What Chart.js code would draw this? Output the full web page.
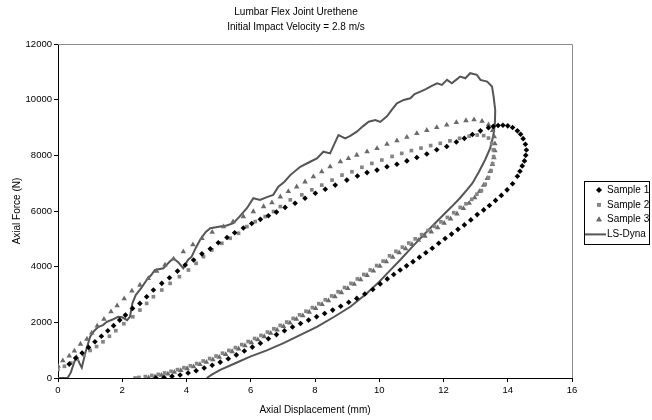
<!DOCTYPE html>
<html>
<head>
<meta charset="utf-8">
<script src="https://cdn.jsdelivr.net/npm/chart.js@4.4.0/dist/chart.umd.min.js"></script>
<style>
    body { margin: 0; background: #fff; }
    #wrap { width: 652px; height: 420px; }
</style>
</head>
<body>
<div id="wrap"><canvas id="hysteresis" width="652" height="420"></canvas></div>
<script>
// values, [displacement mm, force N]
var sample1 = [
    [0.35, 500], [0.55, 720], [0.75, 900], [0.95, 1100], [1.15, 1300], [1.35, 1500], [1.55, 1700],
    [1.73, 1880], [1.92, 2080], [2.1, 2260], [2.32, 2500], [2.55, 2680], [2.76, 2920], [2.97, 3160],
    [3.23, 3400], [3.47, 3600], [3.72, 3840], [3.96, 4060], [4.22, 4240], [4.48, 4460], [4.74, 4640],
    [4.99, 4860], [5.26, 5050], [5.5, 5220], [5.77, 5390], [6.03, 5550], [6.3, 5700], [6.55, 5830],
    [6.8, 5960], [7.07, 6130], [7.38, 6280], [7.69, 6460], [8.01, 6640], [8.32, 6780], [8.63, 6930],
    [8.99, 7110], [9.32, 7260], [9.62, 7380], [9.93, 7470], [10.24, 7590], [10.55, 7680], [10.86, 7800],
    [11.17, 7920], [11.48, 8050], [11.79, 8200], [12.1, 8320], [12.4, 8480], [12.65, 8610], [12.9, 8750],
    [13.15, 8880], [13.4, 8990], [13.55, 9040], [13.7, 9070], [13.85, 9080], [14.0, 9060], [14.15, 9000],
    [14.3, 8880], [14.4, 8760], [14.48, 8600], [14.55, 8400], [14.58, 8190], [14.56, 8000], [14.52, 7800],
    [14.45, 7620], [14.38, 7430], [14.3, 7250], [14.15, 6980], [13.98, 6760], [13.8, 6560], [13.62, 6380],
    [13.43, 6200], [13.25, 6040], [13.05, 5870], [12.85, 5680], [12.65, 5500], [12.45, 5340], [12.25, 5170],
    [12.05, 5010], [11.85, 4840], [11.65, 4660], [11.45, 4500], [11.25, 4340], [11.05, 4180], [10.85, 4030],
    [10.65, 3880], [10.45, 3720], [10.25, 3560], [10.03, 3380], [9.8, 3180], [9.55, 3020], [9.3, 2860],
    [9.05, 2720], [8.8, 2580], [8.55, 2440], [8.3, 2320], [8.05, 2200], [7.8, 2080], [7.55, 1960],
    [7.3, 1830], [7.05, 1700], [6.8, 1560], [6.55, 1410], [6.3, 1250], [6.05, 1110], [5.8, 970],
    [5.55, 830], [5.3, 690], [5.05, 570], [4.8, 460], [4.55, 360], [4.3, 260], [4.05, 180], [3.8, 110],
    [3.55, 60], [3.3, 20], [3.05, 0]
];

var sample2 = [
    [0, 310], [0.2, 420], [0.4, 540], [0.6, 680], [0.8, 830], [1.0, 990], [1.2, 1130], [1.4, 1300],
    [1.6, 1500], [1.8, 1700], [2.05, 1950], [2.33, 2200], [2.55, 2440], [2.76, 2680], [2.97, 2920],
    [3.23, 3160], [3.49, 3400], [3.78, 3640], [4.06, 3880], [4.3, 4120], [4.53, 4360], [4.79, 4600],
    [5.1, 4840], [5.36, 5020], [5.62, 5200], [5.88, 5440], [6.14, 5620], [6.45, 5800], [6.71, 5980],
    [6.92, 6160], [7.23, 6400], [7.59, 6580], [7.9, 6760], [8.21, 6930], [8.53, 7110], [8.84, 7290],
    [9.15, 7410], [9.46, 7570], [9.77, 7710], [10.08, 7830], [10.4, 7960], [10.7, 8070], [11.0, 8170],
    [11.3, 8260], [11.6, 8350], [11.9, 8430], [12.2, 8520], [12.5, 8610], [12.8, 8690], [13.05, 8730],
    [13.25, 8710], [13.4, 8620], [13.5, 8430], [13.55, 8200], [13.56, 7950], [13.53, 7700], [13.48, 7450],
    [13.4, 7200], [13.3, 6960], [13.18, 6730], [13.04, 6600], [12.88, 6420], [12.7, 6260], [12.52, 6130],
    [12.32, 5940], [12.12, 5770], [11.92, 5610], [11.72, 5450], [11.52, 5300], [11.32, 5150], [11.12, 5000],
    [10.92, 4850], [10.72, 4700], [10.52, 4550], [10.32, 4390], [10.12, 4200], [9.92, 4040], [9.72, 3880],
    [9.52, 3720], [9.32, 3560], [9.12, 3400], [8.92, 3250], [8.72, 3100], [8.52, 2950], [8.32, 2810],
    [8.12, 2670], [7.92, 2530], [7.72, 2400], [7.52, 2270], [7.32, 2140], [7.12, 2010], [6.92, 1890],
    [6.72, 1770], [6.52, 1650], [6.32, 1530], [6.12, 1420], [5.92, 1310], [5.72, 1200], [5.52, 1090],
    [5.32, 990], [5.12, 890], [4.92, 790], [4.72, 700], [4.52, 610], [4.32, 520], [4.12, 440], [3.92, 370],
    [3.72, 300], [3.52, 240], [3.32, 180], [3.12, 130], [2.92, 90], [2.72, 50], [2.52, 20], [2.4, 0]
];

var sample3 = [
    [0, 430], [0.15, 620], [0.35, 790], [0.51, 970], [0.7, 1220], [0.9, 1400], [1.05, 1620], [1.22, 1870],
    [1.43, 2110], [1.65, 2380], [1.84, 2600], [2.06, 2850], [2.3, 3130], [2.55, 3340], [2.81, 3580],
    [3.07, 3840], [3.33, 4060], [3.6, 4280], [3.9, 4540], [4.2, 4790], [4.48, 5020], [4.8, 5240],
    [5.15, 5440], [5.45, 5620], [5.77, 5800], [6.08, 5980], [6.4, 6160], [6.66, 6300], [6.92, 6510],
    [7.17, 6700], [7.43, 6870], [7.69, 7050], [7.95, 7230], [8.21, 7410], [8.47, 7590], [8.79, 7770],
    [9.04, 7890], [9.3, 8010], [9.62, 8130], [9.93, 8250], [10.24, 8400], [10.55, 8530], [10.86, 8650],
    [11.17, 8790], [11.48, 8900], [11.79, 9000], [12.1, 9090], [12.4, 9180], [12.7, 9250], [12.95, 9280],
    [13.2, 9230], [13.4, 9100], [13.53, 8900], [13.58, 8670], [13.6, 8420], [13.6, 8170], [13.57, 7920],
    [13.52, 7670], [13.45, 7420], [13.36, 7170], [13.25, 6930], [13.12, 6700], [12.97, 6480], [12.8, 6280],
    [12.62, 6090], [12.42, 5900], [12.22, 5720], [12.02, 5560], [11.82, 5400], [11.62, 5250], [11.42, 5100],
    [11.22, 4950], [11.02, 4800], [10.82, 4650], [10.62, 4500], [10.42, 4340], [10.22, 4180], [10.02, 4020],
    [9.82, 3850], [9.62, 3690], [9.42, 3530], [9.22, 3370], [9.02, 3220], [8.82, 3070], [8.62, 2920],
    [8.42, 2780], [8.22, 2640], [8.02, 2500], [7.82, 2370], [7.62, 2240], [7.42, 2110], [7.22, 1980],
    [7.02, 1850], [6.82, 1730], [6.62, 1610], [6.42, 1490], [6.22, 1380], [6.02, 1270], [5.82, 1160],
    [5.62, 1050], [5.42, 950], [5.22, 850], [5.02, 750], [4.82, 660], [4.62, 570], [4.42, 490], [4.22, 410],
    [4.02, 340], [3.82, 270], [3.62, 210], [3.42, 150], [3.22, 100], [3.02, 50], [2.82, 10]
];

var lsDyna = [
    [0, 0], [0.3, 0], [0.4, 200], [0.5, 550], [0.58, 770], [0.66, 550], [0.74, 370], [0.85, 900],
    [1.0, 1480], [1.13, 1700], [1.26, 1840], [1.4, 1900], [1.52, 2020], [1.7, 2100], [1.87, 2200],
    [2.0, 2180], [2.15, 2080], [2.24, 2200], [2.32, 2700], [2.42, 2980], [2.6, 3250], [2.76, 3520],
    [2.9, 3700], [3.02, 3880], [3.28, 3940], [3.45, 4150], [3.59, 4300], [3.75, 4150], [3.9, 3940],
    [4.05, 4250], [4.16, 4360], [4.3, 4700], [4.42, 4960], [4.6, 5250], [4.74, 5380], [5.05, 5440],
    [5.25, 5480], [5.46, 5560], [5.65, 5800], [5.88, 6100], [6.08, 6460], [6.29, 6400], [6.5, 6500],
    [6.7, 6580], [6.86, 6870], [7.05, 7050], [7.23, 7290], [7.54, 7590], [7.85, 7770], [8.06, 7890],
    [8.26, 8130], [8.47, 8070], [8.6, 8400], [8.73, 8730], [8.94, 8610], [9.1, 8700], [9.3, 8850],
    [9.5, 9050], [9.67, 9210], [9.88, 9270], [10.03, 9200], [10.24, 9400], [10.4, 9650], [10.55, 9870],
    [10.76, 9990], [10.97, 10050], [11.1, 10200], [11.28, 10290], [11.45, 10380], [11.59, 10470],
    [11.8, 10590], [11.95, 10530], [12.11, 10710], [12.26, 10590], [12.4, 10720], [12.52, 10830],
    [12.68, 10770], [12.83, 10950], [13.04, 10890], [13.15, 10710], [13.36, 10650], [13.51, 10470],
    [13.56, 10110], [13.61, 9630], [13.6, 9150], [13.55, 8700], [13.45, 8250], [13.3, 7850], [13.1, 7400],
    [12.9, 7000], [12.73, 6760], [12.5, 6450], [12.25, 6150], [11.9, 5750], [11.5, 5280], [11.1, 4800],
    [10.65, 4240], [10.3, 3820], [10.0, 3460], [9.6, 3030], [9.1, 2560], [8.6, 2200], [8.06, 1840],
    [7.5, 1520], [7.02, 1250], [6.5, 990], [5.98, 770], [5.5, 520], [5.05, 290], [4.8, 130], [4.63, 0]
];

var seriesNames = ["Sample 1", "Sample 2", "Sample 3", "LS-Dyna"];
var xTicks = [0, 2, 4, 6, 8, 10, 12, 14, 16];
var yTicks = [0, 2000, 4000, 6000, 8000, 10000, 12000];

function toPoints(arr) {
    return arr.map(function (p) { return {x: p[0], y: p[1]}; });
}

Chart.defaults.font.family = "'Liberation Sans', Arial, sans-serif";
Chart.defaults.font.size = 10;
Chart.defaults.color = "#000";

// gray frame on top and right of the plot like excel
var frame_plugin = {
    id: 'frame',
    beforeDatasetsDraw: function (chart) {
        var a = chart.chartArea;
        var c = chart.ctx;
        c.save();
        c.strokeStyle = "#8c8c8c";
        c.lineWidth = 1;
        c.beginPath();
        c.moveTo(a.left, a.top + 0.5);
        c.lineTo(a.right + 0.5, a.top + 0.5);
        c.lineTo(a.right + 0.5, a.bottom);
        c.stroke();
        c.restore();
    }
};

// boxed legend at the right
var legend_plugin = {
    id: 'boxLegend',
    afterDraw: function (chart) {
        var c = chart.ctx;
        var left = 584, top = 181, w = 65, h = 63;
        c.save();
        c.strokeStyle = "#000";
        c.lineWidth = 1;
        c.strokeRect(left + 0.5, top + 0.5, w, h);
        c.font = "10px 'Liberation Sans', Arial, sans-serif";
        c.textBaseline = "middle";
        chart.data.datasets.forEach(function (ds, i) {
            var y = top + 9 + i * 14.8;
            if (ds.showLine) {
                c.strokeStyle = ds.borderColor;
                c.lineWidth = 2;
                c.beginPath();
                c.moveTo(left + 1, y);
                c.lineTo(left + 22, y);
                c.stroke();
            } else {
                c.fillStyle = ds.backgroundColor;
                Chart.helpers.drawPoint(c, {
                    pointStyle: ds.pointStyle,
                    radius: ds.pointRadius,
                    rotation: 0,
                    borderWidth: 0
                }, left + 15, y);
                c.fill();
            }
            c.fillStyle = "#000";
            c.fillText(ds.label, left + 23, y);
        });
        c.restore();
    }
};

function build_graph_hysteresis() {

    var ctx = document.getElementById("hysteresis");

    var tickFont = {size: 9.5};

    var data = {
        datasets: [
            {
                label: seriesNames[0],
                data: toPoints(sample1),
                pointStyle: 'rectRot',
                pointRadius: 2.8,
                backgroundColor: "#000",
                borderColor: "#000",
                borderWidth: 0,
                showLine: false
            },
            {
                label: seriesNames[1],
                data: toPoints(sample2),
                pointStyle: 'rect',
                pointRadius: 2.6,
                backgroundColor: "#858585",
                borderColor: "#858585",
                borderWidth: 0,
                showLine: false
            },
            {
                label: seriesNames[2],
                data: toPoints(sample3),
                pointStyle: 'triangle',
                pointRadius: 3.2,
                backgroundColor: "#6a6a6a",
                borderColor: "#6a6a6a",
                borderWidth: 0,
                showLine: false
            },
            {
                label: seriesNames[3],
                data: toPoints(lsDyna),
                showLine: true,
                pointRadius: 0,
                borderColor: "#555",
                backgroundColor: "#555",
                borderWidth: 2,
                tension: 0,
                fill: false
            }
        ]
    };

    var chart = new Chart(ctx, {
        type: 'scatter',
        data: data,
        plugins: [frame_plugin, legend_plugin],
        options: {
            responsive: false,
            animation: false,
            events: [],
            layout: {padding: {left: 20, right: 80, top: 0, bottom: 0}},
            plugins: {
                legend: {display: false},
                tooltip: {enabled: false},
                title: {
                    display: true,
                    text: ["Lumbar Flex Joint Urethene", "Initial Impact Velocity = 2.8 m/s"],
                    font: {size: 10, weight: 'normal', lineHeight: 1.5},
                    color: "#000",
                    padding: {top: 5, bottom: 9}
                }
            },
            scales: {
                x: {
                    type: 'linear',
                    min: xTicks[0],
                    max: xTicks[xTicks.length - 1],
                    afterBuildTicks: function (scale) {
                        scale.ticks = xTicks.map(function (v) { return {value: v}; });
                    },
                    afterFit: function (scale) {
                        scale.height = 42;
                    },
                    ticks: {
                        padding: 3,
                        maxRotation: 0,
                        color: "#000",
                        font: tickFont,
                        callback: function (v) { return String(v); }
                    },
                    grid: {drawOnChartArea: false, tickLength: 4, color: "#000"},
                    border: {color: "#000", width: 1},
                    title: {
                        display: true,
                        text: "Axial Displacement (mm)",
                        color: "#000",
                        padding: {top: 0, bottom: 4}
                    }
                },
                y: {
                    type: 'linear',
                    min: yTicks[0],
                    max: yTicks[yTicks.length - 1],
                    afterBuildTicks: function (scale) {
                        scale.ticks = yTicks.map(function (v) { return {value: v}; });
                    },
                    afterFit: function (scale) {
                        scale.width = 38;
                    },
                    ticks: {
                        padding: 2,
                        color: "#000",
                        font: tickFont,
                        callback: function (v) { return String(v); }
                    },
                    grid: {drawOnChartArea: false, tickLength: 4, color: "#000"},
                    border: {color: "#000", width: 1},
                    title: {
                        display: true,
                        text: "Axial Force (N)",
                        color: "#000",
                        padding: {top: -9, bottom: 0}
                    }
                }
            }
        }
    });
}

build_graph_hysteresis();
</script>
</body>
</html>
